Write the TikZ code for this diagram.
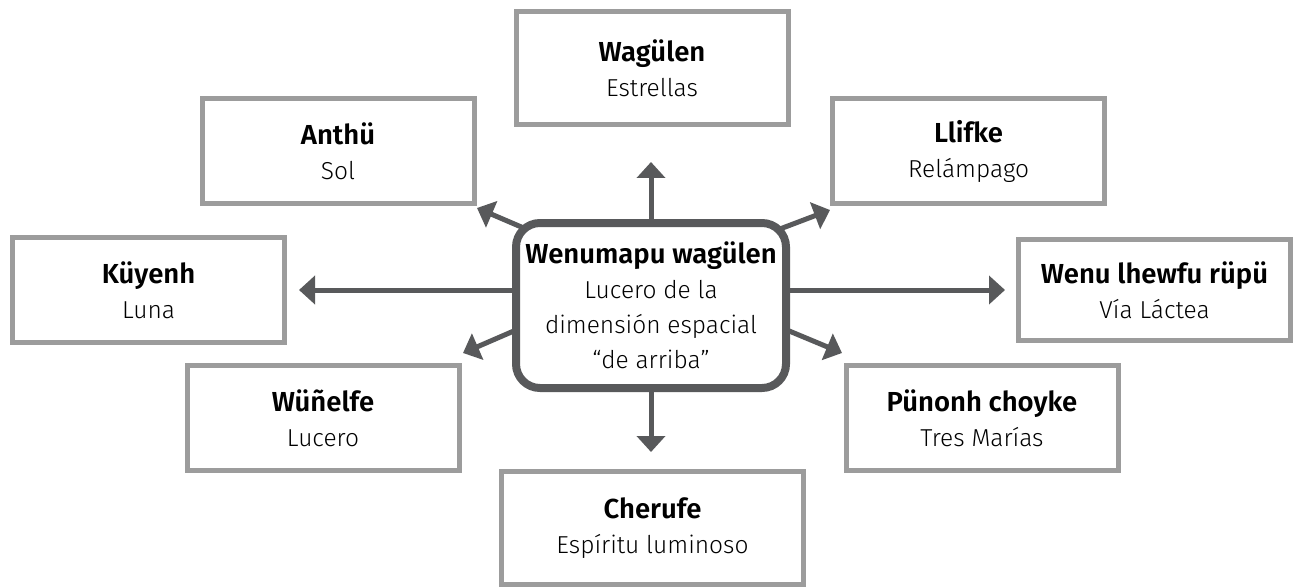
\documentclass[tikz,border=0pt]{standalone}
\usepackage{fontspec}
\setmainfont{Fira Sans Light}[BoldFont={Fira Sans SemiBold}]
\usetikzlibrary{arrows.meta,backgrounds,calc}
\definecolor{boxgray}{HTML}{9C9C9C}
\definecolor{hubgray}{HTML}{58595B}
\newcommand{\ttl}[1]{{\fontsize{27.5}{35}\selectfont\bfseries #1}}
\begin{document}
\begin{tikzpicture}[x=1pt,y=-1pt,
  txt/.style={font=\fontsize{24.5}{35}\selectfont,align=center,inner sep=0pt},
  item/.style={txt,draw=boxgray,line width=5pt,fill=white,minimum width=272pt,minimum height=105pt},
  hub/.style={txt,draw=hubgray,line width=8pt,rounded corners=24pt,fill=white,minimum width=270pt,minimum height=165pt},
  link/.style={draw=hubgray,line width=5pt,-{Triangle[length=16pt,width=28pt]}}]
\useasboundingbox (0,0) rectangle (1295,588);

% central star
\node[hub] (c) at (651,305.5) {\ttl{Wenumapu wagülen}\\Lucero de la\\dimensión espacial\\“de arriba”};

% surrounding celestial beings
\node[item,minimum height=113pt] (w) at (652,68) {\ttl{Wagülen}\\Estrellas};
\node[item] (a) at (338,151) {\ttl{Anthü}\\Sol};
\node[item] (l) at (968.5,151) {\ttl{Llifke}\\Relámpago};
\node[item] (k) at (148.5,290) {\ttl{Küyenh}\\Luna};
\node[item,minimum height=101pt] (r) at (1154.5,290) {\ttl{Wenu lhewfu rüpü}\\Vía Láctea};
\node[item] (n) at (323,418) {\ttl{Wüñelfe}\\Lucero};
\node[item] (p) at (982,418) {\ttl{Pünonh choyke}\\Tres Marías};
\node[item,minimum width=302pt,minimum height=113pt] (ch) at (652.5,528) {\ttl{Cherufe}\\Espíritu luminoso};

% arrow tips
\coordinate (tU) at (651,162);
\coordinate (tD) at (651,452);
\coordinate (tL) at (299,290);
\coordinate (tR) at (1005,290);
\coordinate (tUL) at (477,208);
\coordinate (tUR) at (830,210);
\coordinate (tLL) at (463,353);
\coordinate (tLR) at (842,353);

\begin{scope}[on background layer]
\draw[link] (c.north) -- (tU);
\draw[link] (c.south) -- (tD);
\draw[link] ([yshift=15.5pt]c.west) -- (tL);
\draw[link] ([yshift=15.5pt]c.east) -- (tR);
\draw[link] ([shift={(-118pt,73.5pt)}]c.center) -- (tUL);
\draw[link] ([shift={(121pt,73.5pt)}]c.center) -- (tUR);
\draw[link] ([shift={(-128pt,-21.5pt)}]c.center) -- (tLL);
\draw[link] ([shift={(131pt,-22.5pt)}]c.center) -- (tLR);
\end{scope}
\end{tikzpicture}
\end{document}
